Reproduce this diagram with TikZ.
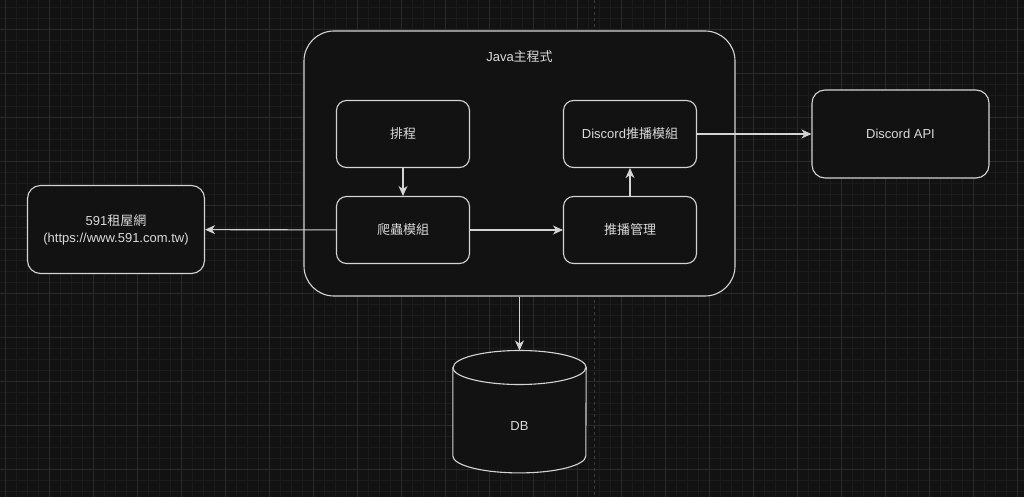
\documentclass[tikz,border=0pt]{standalone}
\usepackage{fontspec}
\setmainfont{Liberation Sans}
\newfontfamily\cjk{Noto Sans CJK TC}
\usepackage{tikz}
\usetikzlibrary{arrows.meta}
\definecolor{bgcol}{HTML}{121212}
\definecolor{gridminor}{HTML}{1B1B1B}
\definecolor{gridmajor}{HTML}{2A2A2A}
\definecolor{pagecol}{HTML}{3A3A3A}
\definecolor{edgecol}{HTML}{D4D4D4}
\definecolor{txtcol}{HTML}{DADADA}
\pgfdeclarelayer{grid}
\pgfdeclarelayer{back}
\pgfsetlayers{grid,back,main}

\begin{document}
\begin{tikzpicture}[x=1pt,y=-1pt,
    box/.style={draw=edgecol,fill=bgcol,line width=1.1pt,rounded corners=10pt,
      minimum width=133pt,minimum height=67pt,text=txtcol,align=center,
      font=\fontsize{13}{17}\selectfont},
    ext/.style={box,rounded corners=13pt,minimum width=177pt,minimum height=88pt},
    store/.style={text=txtcol,font=\fontsize{13}{17}\selectfont,minimum width=133pt,minimum height=150.6pt},
    can/.style={draw=edgecol,fill=bgcol,line width=1.1pt},
    link/.style={draw=edgecol,line width=1.1pt,-{Stealth[length=10pt,width=9pt,inset=3pt]}}]
      \useasboundingbox (0,0) rectangle (1024,497);
      % grid
      \begin{pgfonlayer}{grid}
      \fill [bgcol] (0,0) rectangle (1024,497);
      \foreach \x in {5,16,...,1024}
        \draw [gridminor,line width=0.8pt] (\x,0) -- (\x,497);
      \foreach \y in {7.5,18.5,...,497}
        \draw [gridminor,line width=0.8pt] (0,\y) -- (1024,\y);
      \foreach \x in {5,49,...,1024}
        \draw [gridmajor,line width=0.8pt] (\x,0) -- (\x,497);
      \foreach \y in {29.5,73.5,...,497}
        \draw [gridmajor,line width=0.8pt] (0,\y) -- (1024,\y);
      \draw [pagecol,line width=0.8pt,dash pattern=on 3pt off 3pt] (594,0) -- (594,497);
      \end{pgfonlayer}

      \node [box,rounded corners=30pt,minimum width=431pt,minimum height=265pt] (main) at (519.5,163.5) {};
      \node [text=txtcol,font=\fontsize{13}{17}\selectfont] (title) at (519.5,57) {Java{\cjk 主程式}};
      \node [box] (sched) at (403,134) {{\cjk 排程}};
      \node [box] (crawl) at (403,230) {{\cjk 爬蟲模組}};
      \node [box] (pushmod) at (630,134) {Discord{\cjk 推播模組}};
      \node [box] (pushmgr) at (630,230) {{\cjk 推播管理}};
      \node [ext] (api) at (900.5,134) {Discord API};
      \node [ext] (site) at (116,229.5) {591{\cjk 租屋網}\\(https://www.591.com.tw)};
      \node [store] (db) at (519.5,426) {DB};

      % database cylinder
      \begin{pgfonlayer}{back}
      \path [can] ([yshift=-17pt]db.north west) -- ([yshift=45.6pt]db.south west)
        arc (180:360:66.5pt and 17pt) -- ([yshift=-17pt]db.north east)
        arc (0:180:66.5pt and 17pt) -- cycle;
      \draw [can,fill=none] ([yshift=-17pt]db.north west) arc (180:360:66.5pt and 17pt);
      \end{pgfonlayer}

      \draw [link] (sched) -- (crawl);
      \draw [link] (crawl) -- (site);
      \draw [link] (crawl) -- (pushmgr);
      \draw [link] (pushmgr) -- (pushmod);
      \draw [link] (pushmod) -- (api);
      \draw [link] (main) -- (db);
\end{tikzpicture}
\end{document}
